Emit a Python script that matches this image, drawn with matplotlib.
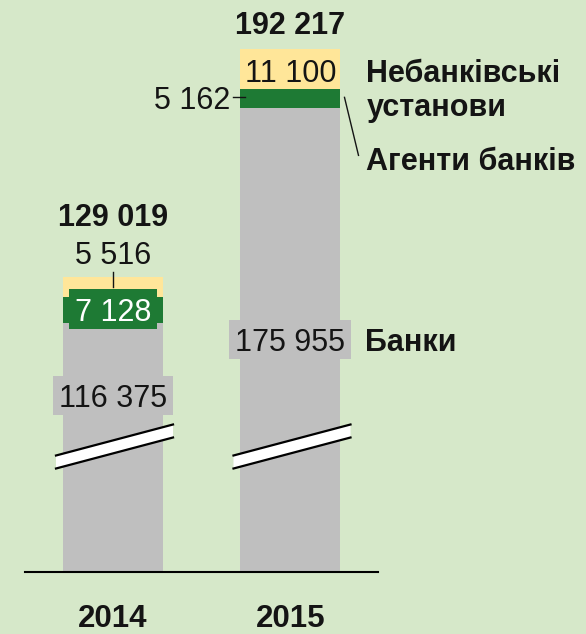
import matplotlib
matplotlib.use("Agg")
import matplotlib.pyplot as plt
from matplotlib.patches import Polygon, Rectangle
from matplotlib.lines import Line2D
from matplotlib.transforms import IdentityTransform

# Кількість пунктів (2014-2015)
years = ["2014", "2015"]
banks = [116375, 175955]      # Банки
agents = [7128, 5162]         # Агенти банків
nonbank = [5516, 11100]       # Небанківські установи
totals = [129019, 192217]

BG = "#d6e8c9"
GREY = "#bfbfbf"
GREEN = "#1e7a34"
YELLOW = "#ffe699"
INK = "#141414"

plt.rcParams["font.family"] = ["Liberation Sans", "DejaVu Sans"]
FS = 22


def fmt(v):
    return f"{v:,}".replace(",", " ")


fig = plt.figure(figsize=(5.86, 6.34), dpi=100, facecolor=BG)
ax = fig.add_axes([25 / 586, 62 / 634, 353 / 586, 572 / 634])
ax.set_facecolor(BG)

x = [0, 1]
w = 0.5634
mid = [b + a for b, a in zip(banks, agents)]
ax.bar(x, banks, w, color=GREY, zorder=2)
ax.bar(x, agents, w, bottom=banks, color=GREEN, zorder=2)
ax.bar(x, nonbank, w, bottom=mid, color=YELLOW, zorder=2)

# the value axis starts well above zero (broken bars)
ax.set_xlim(-0.4958, 1.493)
ax.set_ylim(47260, 205800)
for s in ["top", "left", "right"]:
    ax.spines[s].set_visible(False)
ax.spines["bottom"].set_linewidth(1.5)
ax.spines["bottom"].set_color("black")
ax.set_xticks([])
ax.set_yticks([])

boxed = []


def put(text, xy, off, ha="center", bold=False, color=INK, box=None,
        xycoords="data", size=FS):
    t = ax.annotate(text, xy, xytext=off, textcoords="offset pixels",
                    xycoords=xycoords, ha=ha, va="baseline",
                    fontsize=size, color=color,
                    fontweight="bold" if bold else "normal",
                    annotation_clip=False, zorder=5)
    if box is not None:
        boxed.append((t, box))
    return t


def line_px(p0, p1, lw=1.0):
    # p0, p1: (data x, data y, dx px, dy px)
    pts = []
    for xd, yd, dx, dy in (p0, p1):
        X, Y = ax.transData.transform((xd, yd))
        pts.append(ax.transData.inverted().transform((X + dx, Y + dy)))
    ax.add_line(Line2D([pts[0][0], pts[1][0]], [pts[0][1], pts[1][1]],
                       lw=lw, color=INK, clip_on=False, zorder=6))


# axis-break marks across the grey bars
def break_mark(xc):
    X0, Y0 = ax.transData.transform((xc, ax.get_ylim()[0]))
    inv = ax.transData.inverted()
    half = 6.5
    left = (X0 - 57, Y0 + 110)
    right = (X0 + 60, Y0 + 141)
    quad = [(left[0], left[1] + half), (right[0], right[1] + half),
            (right[0], right[1] - half), (left[0], left[1] - half)]
    quad = [inv.transform(p) for p in quad]
    ax.add_patch(Polygon(quad, closed=True, fc="white", ec="none",
                         zorder=3, clip_on=False))
    for a, b in ((0, 1), (3, 2)):
        ax.add_line(Line2D([quad[a][0], quad[b][0]], [quad[a][1], quad[b][1]],
                           lw=1.6, color="black", zorder=4, clip_on=False))


for xc in x:
    break_mark(xc)

# 2014
put(fmt(totals[0]), (x[0], totals[0]), (0, 51), bold=True)
put(fmt(nonbank[0]), (x[0], totals[0]), (0, 13))
line_px((x[0], mid[0] + nonbank[0] / 2, 0, 0), (x[0], mid[0] + nonbank[0] / 2, 0, 15))
put(fmt(agents[0]), (x[0], banks[0] + agents[0] / 2), (0, -11),
    color="white", box=GREEN)
put(fmt(banks[0]), (x[0], 0), (0, 165), box=GREY,
    xycoords=("data", "axes fraction"))

# 2015
put(fmt(totals[1]), (x[1], totals[1]), (0, 15.5), bold=True)
put(fmt(nonbank[1]), (x[1], mid[1] + nonbank[1] / 2), (0, -13))
gmid = banks[1] + agents[1] / 2
put(fmt(agents[1]), (x[1] - w / 2, gmid), (-10, -11), ha="right")
line_px((x[1] - w / 2, gmid, -7, 1), (x[1] - w / 2, gmid, 5, 1))
put(fmt(banks[1]), (x[1], 0), (0, 221), box=GREY,
    xycoords=("data", "axes fraction"))

# series names on the right
right = x[1] + w / 2
ymid = mid[1] + nonbank[1] / 2
put("Небанківські", (right, ymid), (26, -13), ha="left", bold=True)
put("установи", (right, ymid), (26, -47), ha="left", bold=True)
put("Агенти банків", (right, gmid), (26, -72), ha="left", bold=True)
line_px((right, gmid, 4, 1), (right, gmid, 18, -57))
put("Банки", (right, 0), (25, 221), ha="left", bold=True,
    xycoords=("data", "axes fraction"))

# year labels under the baseline
for xc, yr in zip(x, years):
    put(yr, (xc, 0), (0, -55), bold=True, size=22.5,
        xycoords=("data", "axes fraction"))

# label backgrounds sized from the rendered text
fig.canvas.draw()
renderer = fig.canvas.get_renderer()
for t, color in boxed:
    bb = t.get_window_extent(renderer)
    ax.add_patch(Rectangle((bb.x0 - 6, bb.y0 - 1), bb.width + 12,
                           bb.height + 9.5, transform=IdentityTransform(),
                           fc=color, ec="none", zorder=4.5, clip_on=False))

fig.savefig("out.png", dpi=100, facecolor=BG)
